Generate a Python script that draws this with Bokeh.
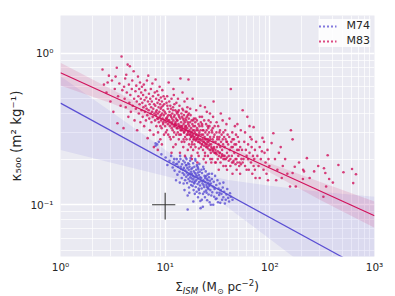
from bokeh.plotting import figure
from bokeh.layouts import column
from bokeh.models import FixedTicker, Legend, LegendItem, Range1d, ColumnDataSource, Div
from bokeh.embed import file_html
from bokeh.resources import INLINE

# ---------------- data ----------------
m74_points = [
    (8.1, 0.245), (8.1, 0.254), (8.7, 0.26), (8.4, 0.25),
    (9.2, 0.215), (10.1, 0.205), (10.5, 0.183), (11.0, 0.195), (11.4, 0.21), (11.8, 0.176), (12.0, 0.19),
    (12.3, 0.168), (12.6, 0.185), (12.9, 0.2), (13.1, 0.158), (13.3, 0.178), (13.5, 0.192), (13.7, 0.165),
    (13.9, 0.21), (14.0, 0.2), (14.2, 0.172), (14.4, 0.15), (14.5, 0.185), (14.7, 0.162), (14.9, 0.195),
    (12.7, 0.145), (13.8, 0.14), (12.2, 0.2), (14.1, 0.178), (13.0, 0.186), (14.8, 0.17),
    (15.1, 0.175), (15.2, 0.158), (15.4, 0.19), (15.5, 0.145), (15.6, 0.168), (15.8, 0.182), (15.9, 0.153),
    (16.0, 0.2), (16.1, 0.163), (16.2, 0.139), (16.3, 0.175), (16.5, 0.157), (16.6, 0.188), (16.7, 0.148),
    (16.8, 0.17), (16.9, 0.13), (17.0, 0.16), (17.1, 0.178), (17.2, 0.143), (17.3, 0.195), (17.4, 0.152),
    (17.5, 0.203), (17.6, 0.165), (17.7, 0.135), (17.8, 0.172), (17.9, 0.149), (15.3, 0.125), (15.7, 0.205),
    (16.4, 0.115), (16.4, 0.093), (17.0, 0.12), (15.0, 0.138), (16.0, 0.183), (17.5, 0.158), (16.9, 0.185),
    (18.0, 0.16), (18.1, 0.142), (18.2, 0.175), (18.3, 0.133), (18.4, 0.155), (18.5, 0.188), (18.6, 0.147),
    (18.7, 0.125), (18.8, 0.166), (18.9, 0.138), (19.0, 0.178), (19.1, 0.152), (19.2, 0.118), (19.3, 0.162),
    (19.4, 0.143), (19.5, 0.195), (19.6, 0.131), (19.7, 0.158), (19.8, 0.17), (19.9, 0.146), (20.0, 0.122),
    (20.1, 0.183), (20.2, 0.154), (20.3, 0.179), (20.4, 0.137), (20.5, 0.163), (20.6, 0.112), (20.7, 0.149),
    (20.8, 0.171), (20.9, 0.128), (21.0, 0.157), (21.1, 0.141), (21.2, 0.186), (21.3, 0.119), (21.4, 0.165),
    (21.5, 0.134), (21.6, 0.152), (21.7, 0.106), (21.8, 0.095), (21.9, 0.144), (18.6, 0.105), (19.4, 0.2),
    (20.6, 0.175), (21.0, 0.125), (19.0, 0.14),
    (22.1, 0.15), (22.3, 0.128), (22.5, 0.162), (22.7, 0.138), (22.9, 0.097), (23.0, 0.118), (23.2, 0.145),
    (23.4, 0.172), (23.6, 0.131), (23.8, 0.155), (24.0, 0.112), (24.2, 0.141), (24.4, 0.166), (24.6, 0.124),
    (24.8, 0.135), (25.0, 0.148), (25.2, 0.107), (25.4, 0.158), (25.6, 0.129), (25.8, 0.139), (26.0, 0.117),
    (26.2, 0.152), (26.4, 0.133), (26.6, 0.104), (26.8, 0.144), (27.0, 0.125), (22.4, 0.108), (23.1, 0.178),
    (24.1, 0.15), (24.9, 0.12), (25.5, 0.145), (26.3, 0.16), (22.8, 0.143), (23.7, 0.122), (24.5, 0.154),
    (25.9, 0.127), (26.7, 0.136), (22.2, 0.17), (23.3, 0.135), (25.1, 0.131),
    (27.3, 0.138), (27.6, 0.115), (27.9, 0.148), (28.2, 0.121), (28.5, 0.132), (28.8, 0.1), (29.1, 0.142),
    (29.4, 0.113), (29.7, 0.127), (30.0, 0.155), (30.4, 0.109), (30.8, 0.135), (31.2, 0.12), (31.6, 0.145),
    (32.0, 0.104), (32.4, 0.128), (32.8, 0.116), (33.2, 0.138), (33.6, 0.103), (34.0, 0.125), (27.3, 0.1),
    (28.0, 0.16), (29.5, 0.13), (31.0, 0.11), (33.0, 0.12),
    (34.5, 0.118), (35.0, 0.108), (35.5, 0.13), (36.0, 0.112), (36.6, 0.122), (37.2, 0.102), (37.9, 0.108),
    (38.5, 0.117), (39.2, 0.127), (40.0, 0.111), (40.8, 0.105), (41.6, 0.119), (42.4, 0.113), (44.0, 0.108),
    (36.0, 0.14),
]

m83_points = [
    (2.52, 0.78), (2.6, 0.62), (2.75, 0.55), (2.82, 0.64), (2.9, 0.71), (3.0, 0.48), (3.1, 0.66), (3.2, 0.41),
    (3.3, 0.58), (3.36, 0.70), (3.45, 0.8), (3.5, 0.345), (3.55, 0.52), (3.65, 0.63), (3.75, 0.45), (3.83, 0.95),
    (3.9, 0.57), (4.0, 0.32),
    (4.05, 0.6), (4.1, 0.5), (4.15, 0.68), (4.2, 0.44), (4.3, 0.55), (4.38, 0.84), (4.45, 0.38), (4.5, 0.62),
    (4.55, 0.47), (4.6, 0.82), (4.65, 0.53), (4.7, 0.41), (4.8, 0.58), (4.85, 0.66), (4.9, 0.45), (5.0, 0.76),
    (5.05, 0.5), (5.1, 0.36), (5.2, 0.56), (5.25, 0.43), (5.3, 0.61), (5.35, 0.48), (5.4, 0.31), (5.5, 0.7),
    (5.55, 0.52), (5.6, 0.4), (5.65, 0.58), (5.7, 0.46), (5.75, 0.64), (5.8, 0.35), (5.85, 0.5), (5.9, 0.55),
    (5.95, 0.42), (6.0, 0.6), (4.25, 0.72),
    (6.05, 0.47), (6.1, 0.38), (6.15, 0.53), (6.2, 0.44), (6.25, 0.62), (6.3, 0.33), (6.35, 0.49), (6.4, 0.41),
    (6.45, 0.57), (6.5, 0.45), (6.55, 0.36), (6.6, 0.51), (6.65, 0.43), (6.7, 0.66), (6.75, 0.39), (6.8, 0.275),
    (6.85, 0.48), (6.9, 0.71), (6.95, 0.42), (7.0, 0.54), (7.05, 0.37), (7.1, 0.46), (7.15, 0.31), (7.2, 0.5),
    (7.25, 0.4), (7.3, 0.58), (7.35, 0.44), (7.4, 0.35), (7.45, 0.48), (7.5, 0.41), (7.55, 0.63), (7.6, 0.38),
    (7.65, 0.52), (7.7, 0.43), (7.75, 0.29), (7.8, 0.24), (7.85, 0.46), (7.9, 0.4), (7.95, 0.55), (8.0, 0.36),
    (8.05, 0.45), (8.1, 0.67), (8.15, 0.39), (8.2, 0.5), (8.25, 0.33), (8.3, 0.42), (8.35, 0.56), (8.4, 0.37),
    (8.45, 0.47), (8.5, 0.4), (8.55, 0.3), (8.6, 0.53), (8.65, 0.44), (8.7, 0.35), (8.75, 0.49), (8.8, 0.41),
    (8.85, 0.6), (8.9, 0.38), (8.95, 0.46), (9.0, 0.27), (9.05, 0.43), (9.1, 0.51), (9.15, 0.36), (9.2, 0.44),
    (9.25, 0.32), (9.3, 0.48), (9.35, 0.4), (9.4, 0.57), (9.45, 0.37), (9.5, 0.45), (9.55, 0.34), (9.6, 0.42),
    (9.65, 0.52), (9.7, 0.39), (9.75, 0.29), (9.8, 0.46), (9.85, 0.36), (9.9, 0.41), (9.95, 0.5), (10.0, 0.33),
    (8.5, 0.23), (9.3, 0.25),
    (10.1, 0.4), (10.2, 0.35), (10.3, 0.47), (10.4, 0.31), (10.5, 0.38), (10.6, 0.43), (10.7, 0.29), (10.8, 0.64),
    (10.9, 0.36), (11.0, 0.41), (11.1, 0.33), (11.2, 0.45), (11.3, 0.27), (11.4, 0.38), (11.5, 0.5), (11.6, 0.34),
    (11.7, 0.4), (11.8, 0.31), (11.9, 0.44), (12.0, 0.36), (12.1, 0.53), (12.2, 0.3), (12.3, 0.39), (12.4, 0.34),
    (12.5, 0.42), (12.6, 0.25), (12.7, 0.37), (12.8, 0.47), (12.9, 0.32), (13.0, 0.4), (10.15, 0.3), (10.45, 0.52),
    (10.75, 0.39), (11.05, 0.28), (11.35, 0.43), (11.65, 0.37), (11.95, 0.24), (12.25, 0.46), (12.55, 0.35),
    (12.85, 0.41), (10.35, 0.37), (10.95, 0.48), (11.55, 0.32), (12.15, 0.38), (12.75, 0.29), (10.65, 0.34),
    (11.25, 0.39), (11.85, 0.42), (12.45, 0.33), (12.95, 0.36), (11.5, 0.22), (12.0, 0.58),
    (13.1, 0.36), (13.2, 0.3), (13.3, 0.41), (13.4, 0.34), (13.5, 0.27), (13.6, 0.38), (13.7, 0.45), (13.8, 0.32),
    (13.9, 0.37), (14.0, 0.68), (14.1, 0.29), (14.2, 0.35), (14.3, 0.4), (14.4, 0.26), (14.5, 0.33), (14.6, 0.43),
    (14.7, 0.31), (14.8, 0.37), (14.9, 0.24), (15.0, 0.34), (15.1, 0.39), (15.2, 0.3), (15.3, 0.48), (15.4, 0.35),
    (15.5, 0.28), (15.6, 0.33), (15.7, 0.41), (15.8, 0.31), (15.9, 0.36), (16.0, 0.27), (16.1, 0.38), (16.2, 0.32),
    (16.3, 0.44), (16.4, 0.29), (16.5, 0.35), (16.6, 0.3), (16.7, 0.67), (16.8, 0.37), (16.9, 0.25), (17.0, 0.33),
    (13.25, 0.5), (13.65, 0.29), (14.05, 0.33), (14.45, 0.38), (14.85, 0.42), (15.25, 0.26), (15.65, 0.37),
    (16.05, 0.41), (16.45, 0.23), (16.85, 0.4), (13.45, 0.39), (14.25, 0.31), (15.05, 0.36), (15.85, 0.33),
    (16.65, 0.34), (13.85, 0.22), (14.65, 0.55), (15.45, 0.21), (16.25, 0.5), (15.5, 0.32),
    (17.1, 0.31), (17.2, 0.27), (17.3, 0.35), (17.4, 0.29), (17.5, 0.39), (17.6, 0.24), (17.7, 0.32), (17.8, 0.28),
    (17.9, 0.36), (18.0, 0.3), (18.1, 0.26), (18.2, 0.34), (18.3, 0.5), (18.4, 0.29), (18.5, 0.23), (18.6, 0.33),
    (18.7, 0.28), (18.8, 0.37), (18.9, 0.31), (19.0, 0.25), (19.2, 0.3), (19.4, 0.35), (19.6, 0.27), (19.8, 0.42),
    (20.0, 0.29), (20.2, 0.32), (20.4, 0.22), (20.6, 0.28), (20.8, 0.34), (21.0, 0.26), (21.2, 0.3), (21.4, 0.38),
    (21.6, 0.27), (21.8, 0.31), (22.0, 0.24), (17.35, 0.43), (17.85, 0.21), (18.35, 0.31), (18.85, 0.27),
    (19.3, 0.33), (19.7, 0.29), (20.1, 0.36), (20.5, 0.31), (20.9, 0.21), (21.3, 0.33), (21.7, 0.45), (17.55, 0.3),
    (18.55, 0.36), (19.5, 0.24), (20.3, 0.27), (21.1, 0.29), (21.9, 0.35), (20.3, 0.19), (18.0, 0.2), (19.9, 0.31),
    (22.2, 0.29), (22.4, 0.25), (22.6, 0.33), (22.8, 0.27), (23.0, 0.23), (23.2, 0.31), (23.4, 0.26), (23.6, 0.36),
    (23.8, 0.28), (24.0, 0.22), (24.2, 0.3), (24.4, 0.25), (24.6, 0.34), (24.8, 0.27), (25.0, 0.41), (25.2, 0.24),
    (25.4, 0.29), (25.6, 0.21), (25.8, 0.32), (26.0, 0.26), (26.3, 0.3), (26.6, 0.23), (26.9, 0.28), (27.2, 0.35),
    (27.5, 0.25), (27.8, 0.31), (28.1, 0.2), (28.4, 0.27), (28.7, 0.38), (29.0, 0.48), (29.3, 0.24), (29.6, 0.29),
    (29.9, 0.22), (22.5, 0.38), (23.3, 0.2), (24.1, 0.27), (24.9, 0.31), (25.7, 0.27), (26.5, 0.33), (27.3, 0.22),
    (28.1, 0.3), (28.9, 0.26), (29.7, 0.33), (23.0, 0.29), (24.5, 0.19), (26.0, 0.36), (27.6, 0.19), (29.1, 0.28),
    (22.9, 0.31), (25.3, 0.26), (27.0, 0.27), (28.5, 0.23), (24.0, 0.44), (26.8, 0.4),
    (30.3, 0.26), (30.6, 0.22), (30.9, 0.3), (31.2, 0.24), (31.5, 0.28), (31.8, 0.2), (32.1, 0.33), (32.4, 0.25),
    (32.7, 0.27), (33.0, 0.22), (33.4, 0.31), (33.8, 0.19), (34.2, 0.26), (34.6, 0.29), (35.0, 0.23), (35.4, 0.36),
    (35.8, 0.25), (36.2, 0.21), (36.6, 0.28), (37.0, 0.24), (37.5, 0.31), (38.0, 0.18), (38.5, 0.26), (39.0, 0.22),
    (39.5, 0.29), (40.0, 0.25), (31.0, 0.35), (32.5, 0.17), (34.0, 0.4), (35.5, 0.27), (37.0, 0.2), (38.5, 0.34),
    (33.0, 0.28), (36.0, 0.3), (39.0, 0.17), (30.5, 0.19), (34.8, 0.21), (37.8, 0.27), (31.4, 0.27), (33.6, 0.24),
    (40.5, 0.21), (41.0, 0.28), (41.5, 0.23), (42.0, 0.18), (42.4, 0.58), (42.8, 0.26), (43.3, 0.21), (43.8, 0.3),
    (44.3, 0.24), (44.8, 0.19), (45.3, 0.27), (45.8, 0.22), (46.4, 0.33), (47.0, 0.2), (47.6, 0.25), (48.2, 0.17),
    (48.8, 0.23), (49.4, 0.28), (50.0, 0.21), (50.7, 0.26), (51.4, 0.19), (52.1, 0.24), (52.8, 0.31), (53.5, 0.2),
    (54.2, 0.23), (55.0, 0.42), (41.2, 0.37), (44.0, 0.16), (46.0, 0.25), (49.0, 0.34), (52.0, 0.16), (43.0, 0.24),
    (47.5, 0.29), (50.5, 0.23),
    (56, 0.2), (57, 0.26), (58, 0.18), (59, 0.23), (60, 0.21), (61, 0.38), (62, 0.25), (63, 0.17), (64, 0.22),
    (65, 0.28), (66, 0.19), (67, 0.24), (68, 0.16), (69, 0.21), (70, 0.325), (71, 0.2), (72, 0.23), (73, 0.15),
    (74, 0.26), (58, 0.3), (64, 0.33), (70, 0.18), (62, 0.2), (67, 0.27), (72, 0.17),
    (76, 0.21), (78, 0.18), (80, 0.24), (82, 0.2), (85, 0.276), (87, 0.17), (89, 0.22), (91, 0.19), (93, 0.16),
    (95, 0.23), (97, 0.2), (99, 0.18), (80, 0.15), (88, 0.26), (96, 0.145), (84, 0.225),
    (104, 0.255), (108, 0.296), (112, 0.2), (118, 0.17), (122, 0.22), (127, 0.24), (133, 0.18), (140, 0.2),
    (147, 0.16), (159, 0.31), (165, 0.27), (156, 0.132), (165, 0.162), (173, 0.178), (177, 0.132), (130, 0.15),
    (115, 0.145),
    (207, 0.148), (208, 0.17), (212, 0.166), (226, 0.203), (265, 0.166), (325, 0.113), (329, 0.174), (339, 0.162),
    (345, 0.132), (357, 0.212), (369, 0.148), (452, 0.183), (505, 0.164), (610, 0.172), (626, 0.139), (665, 0.159),
    (190, 0.19), (240, 0.15), (290, 0.18), (400, 0.14),
    # dense core along the fit
    (8.2, 0.41), (8.6, 0.37), (9.1, 0.39), (9.6, 0.35), (10.2, 0.37), (10.6, 0.36), (11.1, 0.35), (11.6, 0.35),
    (12.1, 0.33), (12.6, 0.34), (13.1, 0.32), (13.6, 0.33), (14.1, 0.31), (14.6, 0.32), (15.1, 0.3), (15.6, 0.31),
    (16.1, 0.29), (16.6, 0.305), (17.1, 0.29), (17.6, 0.28), (18.1, 0.285), (18.6, 0.27), (19.1, 0.28),
    (19.6, 0.265), (20.1, 0.275), (20.6, 0.26), (21.1, 0.27), (21.6, 0.255), (22.1, 0.265), (22.6, 0.25),
    (23.1, 0.26), (23.6, 0.245), (24.1, 0.255), (24.6, 0.24), (25.1, 0.25), (25.6, 0.235), (26.1, 0.245),
    (26.6, 0.25), (27.1, 0.23), (27.6, 0.24), (28.1, 0.235), (28.6, 0.225), (29.1, 0.235), (29.6, 0.22),
    (30.2, 0.23), (31.0, 0.215), (31.8, 0.225), (32.6, 0.21), (33.4, 0.22), (34.2, 0.205), (35.0, 0.215),
    (36.0, 0.2), (37.0, 0.21), (38.0, 0.2), (39.0, 0.205), (40.5, 0.195), (42.0, 0.2), (43.5, 0.19), (45.0, 0.195),
    (47.0, 0.185), (49.0, 0.19), (51.0, 0.18), (53.0, 0.185), (9.0, 0.33), (10.5, 0.45), (12.0, 0.28), (13.5, 0.42),
    (15.0, 0.27), (16.5, 0.39), (18.0, 0.25), (19.5, 0.37), (21.0, 0.235), (22.5, 0.34), (24.0, 0.21), (25.5, 0.33),
    (27.0, 0.2), (28.5, 0.32), (30.0, 0.19), (33.0, 0.3), (36.0, 0.18), (39.0, 0.26), (44.0, 0.27), (48.0, 0.2),
    (55.0, 0.19), (60.0, 0.17),
]

# fitted power laws (end points)
fit_x = [1, 1000]
m74_fit = [0.468, 0.0346]
m83_fit = [0.743, 0.0847]

# confidence bands
m74_band_x = [1, 3, 10, 20, 40, 100, 300, 1000]
m74_band_lo = [0.2297, 0.190, 0.1548, 0.1374, 0.0957, 0.0594, 0.0335, 0.0179]
m74_band_hi = [0.703, 0.413, 0.2303, 0.1622, 0.1459, 0.1333, 0.1217, 0.1129]
m83_band_x = [1, 3, 10, 30, 100, 300, 1000]
m83_band_lo = [0.611, 0.469, 0.340, 0.248, 0.163, 0.108, 0.0706]
m83_band_hi = [0.865, 0.583, 0.382, 0.262, 0.1875, 0.142, 0.105]

# typical error cross
err_x = [10]
err_y = [0.1]
err_dx = [2.5]
err_dy = [0.02]

x_ticks = [1, 10, 100, 1000]
x_tick_labels = ["10⁰", "10¹", "10²", "10³"]
y_ticks = [0.1, 1]
y_tick_labels = ["10⁻¹", "10⁰"]

# ---------------- styling ----------------
C74 = "#5b4fd3"
C83 = "#d1125b"
FONT = "DejaVu Sans"
TXT = "#262626"
NAN = float("nan")

p = figure(width=395, height=275, x_axis_type="log", y_axis_type="log",
           x_range=Range1d(1, 1000), y_range=Range1d(0.0456, 1.77),
           output_backend="svg", toolbar_location=None,
           min_border_left=60, min_border_right=21, min_border_top=15, min_border_bottom=18)
p.background_fill_color = "#EAEAF2"
p.border_fill_color = "white"
p.outline_line_color = None

x_minor = [m * 10 ** e for e in range(0, 3) for m in range(2, 10)]
y_minor = [m * 10 ** e for e in (-2, -1) for m in range(2, 10)]
xt = FixedTicker(ticks=x_ticks, minor_ticks=x_minor)
yt = FixedTicker(ticks=y_ticks, minor_ticks=y_minor)
p.xaxis.ticker = xt
p.yaxis.ticker = yt
p.xgrid.ticker = xt
p.ygrid.ticker = yt
p.xaxis.major_label_overrides = dict(zip(x_ticks, x_tick_labels))
p.yaxis.major_label_overrides = dict(zip(y_ticks, y_tick_labels))

p.grid.grid_line_color = "white"
p.grid.grid_line_width = 1.3
p.grid.minor_grid_line_color = "white"
p.grid.minor_grid_line_width = 0.7

for ax in (p.xaxis, p.yaxis):
    ax.axis_line_color = None
    ax.major_tick_line_color = None
    ax.minor_tick_line_color = None
    ax.major_tick_out = 0
    ax.major_tick_in = 0
    ax.minor_tick_out = 0
    ax.minor_tick_in = 0
    ax.major_label_text_font = FONT
    ax.major_label_text_font_size = "10.5px"
    ax.major_label_text_color = TXT
p.xaxis.major_label_standoff = 4
p.yaxis.major_label_standoff = 7
p.yaxis.axis_label = "κ₅₀₀ (m² kg⁻¹)"
p.yaxis.axis_label_text_font = FONT
p.yaxis.axis_label_text_font_style = "normal"
p.yaxis.axis_label_text_font_size = "13.5px"
p.yaxis.axis_label_text_color = TXT
p.yaxis.axis_label_standoff = 3

# ---------------- glyphs ----------------
s74 = ColumnDataSource(dict(x=[a for a, b in m74_points], y=[b for a, b in m74_points]))
s83 = ColumnDataSource(dict(x=[a for a, b in m83_points], y=[b for a, b in m83_points]))

p.scatter("x", "y", source=s74, size=2.6, fill_color=C74, line_color=None, fill_alpha=0.8)
p.line(fit_x, m74_fit, line_color=C74, line_width=1.2)
p.varea(x=m74_band_x, y1=m74_band_lo, y2=m74_band_hi, fill_color=C74, fill_alpha=0.1)

p.scatter("x", "y", source=s83, size=2.6, fill_color=C83, line_color=None, fill_alpha=0.8)
p.line(fit_x, m83_fit, line_color=C83, line_width=1.2)
p.varea(x=m83_band_x, y1=m83_band_lo, y2=m83_band_hi, fill_color=C83, fill_alpha=0.13)

ex, ey, edx, edy = err_x[0], err_y[0], err_dx[0], err_dy[0]
p.segment(x0=[ex - edx], y0=[ey], x1=[ex + edx], y1=[ey], line_color="#333333", line_width=1.1)
p.segment(x0=[ex], y0=[ey - edy], x1=[ex], y1=[ey + edy], line_color="#333333", line_width=1.1)

# legend (dotted glyphs to mimic scatter points; NaN data so nothing shows in the plot)
l74 = p.line(x=[NAN], y=[NAN], line_color=C74, line_width=2.2, line_dash="2 2", line_alpha=0.75)
l83 = p.line(x=[NAN], y=[NAN], line_color=C83, line_width=2.2, line_dash="2 2", line_alpha=0.75)
legend = Legend(items=[LegendItem(label="M74", renderers=[l74]),
                       LegendItem(label="M83", renderers=[l83])],
                location="top_right", margin=4, padding=5, spacing=2,
                glyph_width=18, glyph_height=12, label_height=12, label_standoff=10,
                label_text_font=FONT, label_text_font_size="11px", label_text_color=TXT,
                background_fill_color="white", background_fill_alpha=0.85,
                border_line_color=None)
p.add_layout(legend)

# x axis label as real text with sub/superscripts
xlabel = Div(text='Σ<sub style="font-size:8.5px;font-style:italic">ISM</sub> '
                  '(M<sub style="font-size:8px">⊙</sub> pc<sup style="font-size:8.5px">−2</sup>)',
             width=314, height=21, margin=(0, 0, 0, 60),
             styles={"text-align": "center", "font-family": FONT, "font-size": "12px",
                     "color": TXT, "line-height": "16px"})

layout = column(p, xlabel, spacing=0)
open("out.html", "w").write(file_html(layout, INLINE))
